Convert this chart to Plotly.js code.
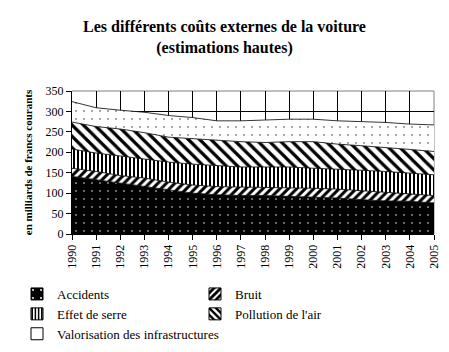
<!DOCTYPE html>
<html>
<head>
<meta charset="utf-8">
<script src="https://cdn.plot.ly/plotly-3.0.1.min.js"></script>
<style>html,body{margin:0;padding:0;background:#fff;}#chart{width:449px;height:352px;}</style>
</head>
<body>
<div id="chart"></div>
<script>
var years = [1990,1991,1992,1993,1994,1995,1996,1997,1998,1999,2000,2001,2002,2003,2004,2005];
var yearLabels = years.map(String);
var accidents = [141,133,124,116,108,100,96,94,94,92,91,88,84,81,80,76];
var bruit = [20,20,19,21,19,20,20,21,20,22,21,22,22,21,18,18];
var effetDeSerre = [47,45,48,46,49,51,51,49,50,50,49,49,50,51,51,51];
var pollution = [66,65,66,65,61,62,62,62,60,62,65,61,60,59,58,57];
var valorisation = [50,46,46,50,53,52,48,51,55,55,55,57,59,61,62,65];
var seriesNames = ['Accidents','Bruit','Effet de serre','Pollution de l\'air','Valorisation des infrastructures'];

var patterns = [
  {shape:'.', bgcolor:'#000', fgcolor:'#fff', size:8, solidity:0.03},
  {shape:'/', bgcolor:'#fff', fgcolor:'#000', size:6, solidity:0.5},
  {shape:'|', bgcolor:'#fff', fgcolor:'#000', size:4, solidity:0.5},
  {shape:'\\', bgcolor:'#fff', fgcolor:'#000', size:8, solidity:0.4},
  {shape:'.', bgcolor:'#fff', fgcolor:'#000', size:8, solidity:0.02}
];
var legendPatterns = [
  {shape:'.', bgcolor:'#000', fgcolor:'#fff', size:12, solidity:0.05},
  {shape:'/', bgcolor:'#fff', fgcolor:'#000', size:6, solidity:0.6},
  {shape:'|', bgcolor:'#fff', fgcolor:'#000', size:4, solidity:0.5},
  {shape:'\\', bgcolor:'#fff', fgcolor:'#000', size:6, solidity:0.5},
  {shape:'', bgcolor:'#fff', fgcolor:'#000', size:6, solidity:0.1}
];
var series = [accidents, bruit, effetDeSerre, pollution, valorisation];

var traces = [];
series.forEach(function(vals, i){
  traces.push({
    type:'scatter', mode:'lines', x:years, y:vals, name:seriesNames[i],
    stackgroup:'one', line:{color:'#000', width:0.8},
    fillcolor: patterns[i].bgcolor,
    fillpattern: patterns[i],
    showlegend:false, hoverinfo:'skip'
  });
});
series.forEach(function(vals, i){
  var lp = legendPatterns[i];
  traces.push({
    type:'bar', x:[null], y:[null], name:seriesNames[i],
    marker:{color: lp.bgcolor, line:{color:'#000', width:1}, pattern:{shape:lp.shape, bgcolor:lp.bgcolor, fgcolor:lp.fgcolor, size:lp.size, solidity:lp.solidity}},
    showlegend:true, hoverinfo:'skip'
  });
});

var layout = {
  width:449, height:352,
  paper_bgcolor:'#fff', plot_bgcolor:'#fff',
  margin:{l:72, r:15, t:91, b:118, autoexpand:false},
  font:{family:'Liberation Serif, Times New Roman, serif', color:'#000', size:12},
  title:{text:'<b>Les différents coûts externes de la voiture<br>(estimations hautes)</b>', font:{size:16, color:'#000'}, x:0.5, xref:'container', xanchor:'center', y:1-32/352, yref:'container', yanchor:'top'},
  xaxis:{range:[1990,2005], tickmode:'array', tickvals:years, ticktext:yearLabels, tickangle:-90,
    showgrid:true, gridcolor:'#000', gridwidth:1, showline:true, linecolor:'#000', linewidth:1,
    ticks:'outside', ticklen:5, tickcolor:'#000', zeroline:false, tickfont:{size:12}, fixedrange:true},
  yaxis:{range:[0,350], dtick:50, tick0:0, showgrid:true, gridcolor:'#000', gridwidth:1,
    showline:true, linecolor:'#000', linewidth:1, ticks:'outside', ticklen:5, tickcolor:'#000',
    zeroline:false, tickfont:{size:12}, fixedrange:true,
    title:{text:'<b>en milliards de francs courants</b>', font:{size:11}, standoff:10}},
  shapes:[
    {type:'line', xref:'paper', yref:'paper', x0:0, x1:1, y0:1, y1:1, line:{color:'#808080', width:1}, layer:'between'},
    {type:'line', xref:'paper', yref:'paper', x0:1, x1:1, y0:0, y1:1, line:{color:'#808080', width:1}, layer:'between'}
  ],
  showlegend:true,
  legend:{orientation:'h', x:(17-72)/362, xanchor:'left', y:(234-279)/143, yanchor:'top',
    entrywidth:133, entrywidthmode:'pixels', font:{size:13}, traceorder:'normal', bgcolor:'rgba(0,0,0,0)'},
  bargap:0.2
};
Plotly.newPlot('chart', traces, layout, {displayModeBar:false, staticPlot:true});
</script>
</body>
</html>
